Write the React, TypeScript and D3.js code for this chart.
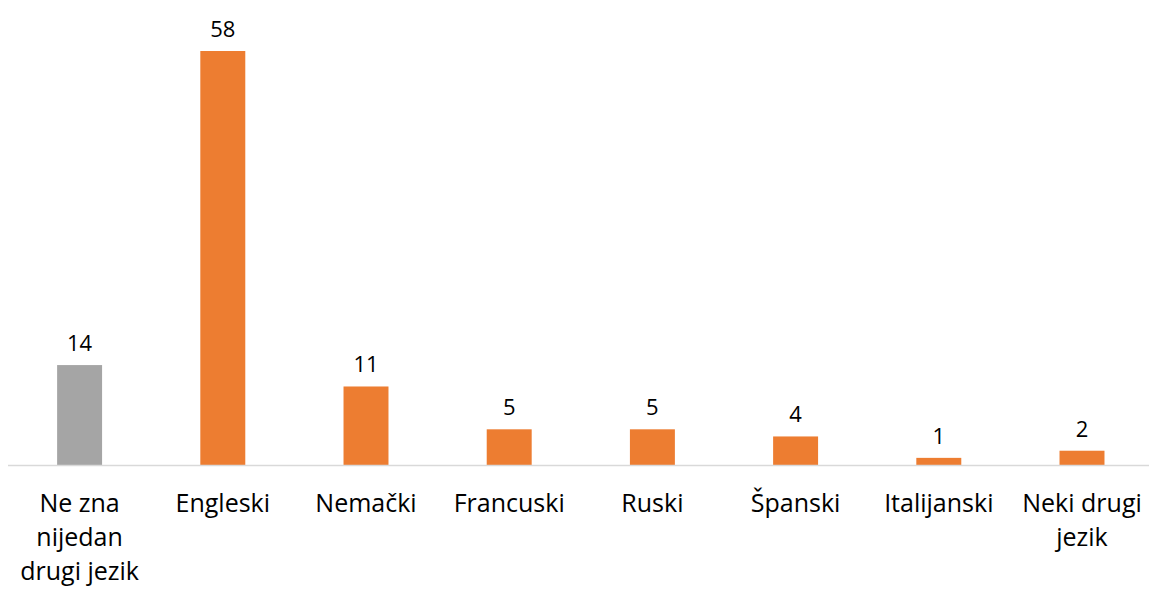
import React from "react";
import * as d3 from "d3";

const categories = [
  "Ne zna\nnijedan\ndrugi jezik",
  "Engleski",
  "Nemački",
  "Francuski",
  "Ruski",
  "Španski",
  "Italijanski",
  "Neki drugi\njezik",
];
const values = [14, 58, 11, 5, 5, 4, 1, 2];
const barColors = ["#A5A5A5", "#ED7D31", "#ED7D31", "#ED7D31", "#ED7D31", "#ED7D31", "#ED7D31", "#ED7D31"];

const W = 1149;
const H = 592;
const left = 8;
const right = 1153.6;
const baseY = 465;
const FONT = "'Open Sans', Lato, sans-serif";

export default function App() {
  const x = d3.scaleBand<number>().domain(d3.range(categories.length)).range([left, right]).paddingInner(0.686).paddingOuter(0.343);
  const y = d3.scaleLinear().domain([0, 58]).range([baseY, 51]);
  return (
    <svg width={W} height={H} style={{ position: "absolute", left: 0, top: 0 }}>
      <rect width={W} height={H} fill="#fff" />
      {values.map((v, i) => (
        <rect key={"b" + i} x={x(i)} y={y(v)} width={x.bandwidth()} height={baseY - y(v)} fill={barColors[i]} />
      ))}
      <line x1={left} x2={1149} y1={baseY + 0.5} y2={baseY + 0.5} stroke="#D9D9D9" strokeWidth={1.5} />
      {values.map((v, i) => (
        <text key={"v" + i} x={(x(i) as number) + x.bandwidth() / 2} y={y(v) - 14} textAnchor="middle" fontFamily={FONT} fontSize={22} fill="#000">
          {v}
        </text>
      ))}
      {categories.map((c, i) => (
        <text key={"c" + i} textAnchor="middle" fontFamily={FONT} fontSize={25} fill="#000">
          {c.split("\n").map((line, j) => (
            <tspan key={j} x={(x(i) as number) + x.bandwidth() / 2} y={512 + j * 34}>
              {line}
            </tspan>
          ))}
        </text>
      ))}
    </svg>
  );
}
